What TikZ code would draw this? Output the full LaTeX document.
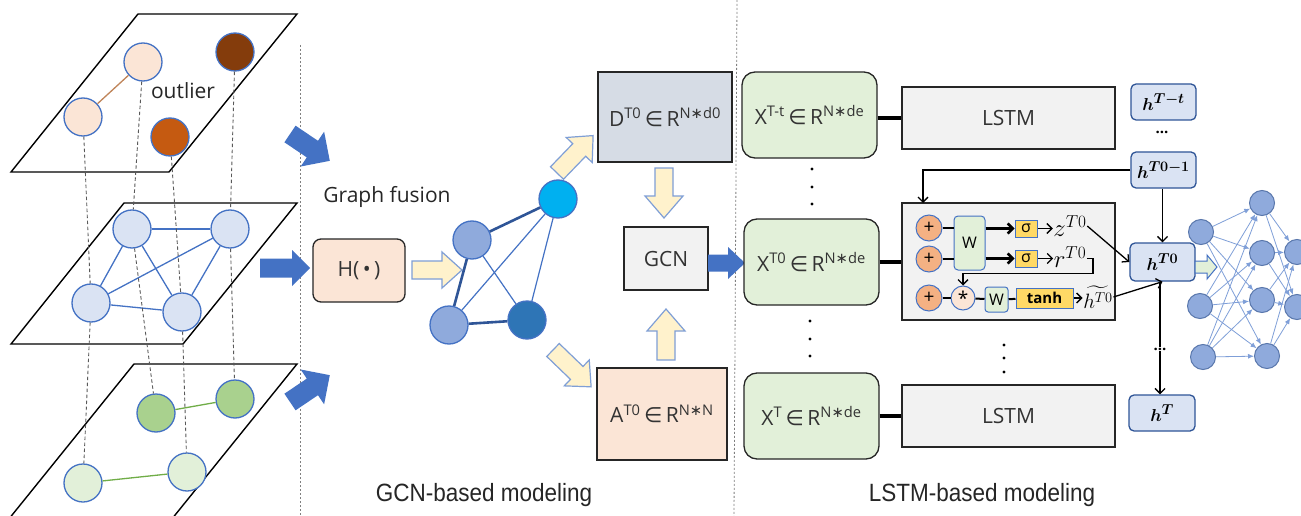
\documentclass[tikz,border=0pt]{standalone}
\usepackage{amsmath,bm}
\usepackage{fontspec}
\setmainfont{Open Sans}
\newfontfamily\symf{DejaVu Sans}
\newfontfamily\narrowf[FakeStretch=0.9]{Liberation Sans}
\usetikzlibrary{arrows.meta,calc}
\definecolor{peach}{HTML}{FBE5D6}
\definecolor{brownd}{HTML}{843C0C}
\definecolor{orng}{HTML}{C55A11}
\definecolor{bluefill}{HTML}{DAE3F3}
\definecolor{bluebd}{HTML}{4472C4}
\definecolor{bluedk}{HTML}{2F5597}
\definecolor{greend}{HTML}{A9D18E}
\definecolor{greenl}{HTML}{E2F0D9}
\definecolor{greenln}{HTML}{70AD47}
\definecolor{fblue}{HTML}{8FAADC}
\definecolor{fcyan}{HTML}{00B0F0}
\definecolor{fdark}{HTML}{2E75B6}
\definecolor{yel}{HTML}{FFF2CC}
\definecolor{yelbd}{HTML}{7F9FD6}
\definecolor{dgray}{HTML}{D6DCE5}
\definecolor{lgray}{HTML}{F2F2F2}
\definecolor{gold}{HTML}{FFD966}
\definecolor{salmon}{HTML}{F4B183}
\definecolor{edgebrown}{HTML}{C0855A}
\definecolor{nnedge}{HTML}{7F9FD8}
% block arrow: style, x, y, angle, length, body half width, head half width, head length
\newcommand{\blockarr}[8]{%
  \begin{scope}[shift={(#2,#3)},rotate=#4]
    \path[#1] (0,-#6) -- ({#5-#8},-#6) -- ({#5-#8},-#7) -- (#5,0) -- ({#5-#8},#7) -- ({#5-#8},#6) -- (0,#6) -- cycle;
  \end{scope}}
\begin{document}
\begin{tikzpicture}[x=1pt,y=-1pt,
  plane/.style={draw=black, line width=1.4pt, line join=miter},
  dline/.style={draw=black!65, line width=0.9pt, dash pattern=on 3.5pt off 2.5pt},
  sepline/.style={draw=black!50, line width=0.8pt, dash pattern=on 2pt off 2pt},
  gn/.style={circle, draw=bluebd, line width=1.3pt, minimum size=38pt, inner sep=0pt},
  box/.style={draw=black!85, line width=1.3pt, inner sep=0pt, align=center, text=black!80},
  txt/.style={font=\fontsize{21}{25}\selectfont},
  yarrow/.style={fill=yel, draw=yelbd, line width=1.2pt},
  barrow/.style={fill=bluebd},
  garrow/.style={fill=greenl, draw=bluebd, line width=1pt},
  hbox/.style={draw=bluedk, fill=bluefill, rounded corners=5pt, line width=1.3pt, inner sep=0pt, font=\fontsize{19}{22}\selectfont},
  pl/.style={circle, draw=bluebd, fill=salmon, line width=1pt, minimum size=26pt, inner sep=0pt, font=\fontsize{19}{19}\selectfont},
  wbox/.style={draw=bluebd, fill=greenl, rounded corners=4pt, line width=1pt, inner sep=0pt, font=\fontsize{16}{16}\selectfont},
  ybox/.style={draw=bluebd, fill=gold, line width=1pt, inner sep=0pt, font=\fontsize{16}{16}\selectfont},
  nn/.style={circle, draw=bluedk!80, fill=fblue, line width=1pt, minimum size=25pt, inner sep=0pt},
  nnarr/.style={draw=nnedge, line width=0.8pt, -{Latex[length=6pt,width=5pt]}},
  thk/.style={line width=4pt},
  arr/.style={line width=1.3pt, -{Straight Barb[length=5pt,width=10pt]}},
  thkarr/.style={line width=2.6pt, -{Straight Barb[length=5pt,width=10pt]}},
  mtxt/.style={inner sep=0.5pt, font=\fontsize{24}{26}\selectfont}
]
\clip (0,0) rectangle (1301,516);
\fill[white] (0,0) rectangle (1301,516);

% ---------- planes ----------
\draw[plane] (138,14) -- (297,14) -- (169,172) -- (11,172) -- cycle;
\draw[plane] (124,203) -- (297,203) -- (183,344) -- (11,344) -- cycle;
\draw[plane] (134,364) -- (297,364) -- (163,530) -- (0,530) -- cycle;

% top plane nodes
\node[gn, fill=peach] (tA) at (143,62) {};
\node[gn, fill=peach] (tB) at (83,117) {};
\node[gn, fill=brownd] (tC) at (235,52) {};
\node[gn, fill=orng] (tD) at (170,137) {};
\draw[edgebrown, line width=1.3pt] (tA) -- (tB);
\node[txt, text=black!85] (outl) at (183,91) {outlier};

% middle plane nodes
\node[gn, fill=bluefill] (m1) at (132,229) {};
\node[gn, fill=bluefill] (m2) at (230,229) {};
\node[gn, fill=bluefill] (m3) at (91,303) {};
\node[gn, fill=bluefill] (m4) at (182,312) {};
\foreach \a/\b in {m1/m2,m1/m3,m1/m4,m2/m3,m2/m4,m3/m4}
  \draw[bluebd, line width=1.3pt] (\a) -- (\b);

% bottom plane nodes
\node[gn, fill=greend] (g1) at (156,413) {};
\node[gn, fill=greend] (g2) at (235,399) {};
\node[gn, fill=greenl] (g3) at (83,483) {};
\node[gn, fill=greenl] (g4) at (187,472) {};
\draw[greenln, line width=1.3pt] (g1) -- (g2);
\draw[greenln, line width=1.3pt] (g3) -- (g4);

% dashed correspondences
\draw[dline] (tB) -- (m3);
\draw[dline] (m3) -- (g3);
\draw[dline] (tA) -- (m1);
\draw[dline] (m1) -- (g1);
\draw[dline] (tD) -- (m4);
\draw[dline] (m4) -- (g4);
\draw[dline] (tC) -- (m2);
\draw[dline] (m2) -- (g2);

% separators
\draw[sepline] (300,45) -- (300,516);
\draw[sepline] (737,0) -- (734,516);

% blue block arrows
\blockarr{barrow}{290}{134}{-34}{48}{10}{21}{21}
\blockarr{barrow}{260}{268}{0}{50}{9.5}{18}{18}
\blockarr{barrow}{290}{402}{34}{48}{10}{21}{21}

% fusion
\node[txt, text=black!85] (gf) at (387,197) {Graph fusion};
\node[box, fill=peach, rounded corners=8pt, minimum width=92pt, minimum height=63pt, txt] (H) at (359,270.5) {H(\,•\,)};
\blockarr{yarrow}{412}{270}{0}{50}{9}{18}{20}

\node[gn, fill=fblue, draw=bluebd] (f1) at (472,240) {};
\node[gn, fill=fcyan, draw=bluebd] (f2) at (558,199) {};
\node[gn, fill=fblue, draw=bluebd] (f3) at (449,325) {};
\node[gn, fill=fdark, draw=bluebd] (f4) at (527,320) {};
\draw[bluedk, line width=2.6pt] (f1) -- (f2);
\draw[bluedk, line width=2.6pt] (f1) -- (f3);
\draw[bluedk, line width=2.6pt] (f3) -- (f4);
\draw[bluebd, line width=1.2pt] (f1) -- (f4);
\draw[bluebd, line width=1.2pt] (f3) -- (f2);
\draw[bluebd, line width=1.2pt] (f4) -- (f2);

\blockarr{yarrow}{557}{173}{46}{52}{9}{18}{20}
\blockarr{yarrow}{553}{350}{-44}{53}{9}{18}{20}

% GCN part
\node[box, fill=dgray, minimum width=134pt, minimum height=90pt, txt] (D) at (665,117)
  {D\textsuperscript{T0}\,{\symf ∈}\,R\textsuperscript{N{\symf ∗}d0}};
\node[box, fill=lgray, minimum width=84pt, minimum height=63pt, txt] (gcn) at (666,258.5) {GCN};
\node[box, fill=peach, minimum width=130pt, minimum height=92pt, txt] (A) at (662,414)
  {A\textsuperscript{T0}\,{\symf ∈}\,R\textsuperscript{N{\symf ∗}N}};
\blockarr{yarrow}{664}{168}{-90}{50}{9}{19}{22}
\blockarr{yarrow}{666}{360}{90}{51}{9}{19}{22}
\blockarr{barrow}{708}{263}{0}{37}{8.5}{16}{17}

% X boxes
\node[box, fill=greenl, rounded corners=13pt, minimum width=135pt, minimum height=86pt, txt] (Xa) at (809.5,115)
  {X\textsuperscript{T-t}\,{\symf ∈}\,R\textsuperscript{N{\symf ∗}de}};
\node[box, fill=greenl, rounded corners=13pt, minimum width=135pt, minimum height=86pt, txt] (Xb) at (811.5,262)
  {X\textsuperscript{T0}\,{\symf ∈}\,R\textsuperscript{N{\symf ∗}de}};
\node[box, fill=greenl, rounded corners=13pt, minimum width=135pt, minimum height=86pt, txt] (Xc) at (811.5,416)
  {X\textsuperscript{T}\,{\symf ∈}\,R\textsuperscript{N{\symf ∗}de}};
\foreach \yy in {169,187,204} \fill (812,\yy) circle (1.6);
\foreach \yy in {321,339,356} \fill (810,\yy) circle (1.6);

% LSTM / GRU boxes
\node[box, fill=lgray, minimum width=213pt, minimum height=62pt, txt] (L1) at (1008.5,118) {LSTM};
\node[box, fill=lgray, minimum width=213pt, minimum height=117pt] (gru) at (1008.5,261.5) {};
\node[box, fill=lgray, minimum width=213pt, minimum height=62pt, txt] (L2) at (1008.5,416) {LSTM};
\foreach \yy in {345,358,372} \fill (1004,\yy) circle (1.6);
\draw[thk] (Xa.east |- L1) -- (L1.west);
\draw[thk] (Xb.east |- gru) -- (gru.west);
\draw[thk] (Xc.east |- L2) -- (L2.west);

% GRU internals
\node[pl] (p1) at (929,228) {+};
\node[pl] (p2) at (929,259) {+};
\node[pl] (p3) at (929,298) {+};
\node[wbox, minimum width=31pt, minimum height=54pt] (W1) at (969.5,243) {W};
\node[ybox, minimum width=22pt, minimum height=17pt] (s1) at (1026,228.5) {σ};
\node[ybox, minimum width=22pt, minimum height=17pt] (s2) at (1026,258.5) {σ};
\node[mtxt] (z) at (1070,226) {$z^{T0}$};
\node[mtxt] (r) at (1070,257) {$r^{T0}$};
\node[pl, fill=peach, minimum size=24pt] (star) at (963,298) {*};
\node[wbox, minimum width=23pt, minimum height=25pt, rounded corners=3pt] (W2) at (996.5,299.5) {W};
\node[ybox, minimum width=57pt, minimum height=20pt, font=\bfseries\fontsize{15}{15}\selectfont] (tanh) at (1044.5,298) {tanh};
\node[mtxt, font=\fontsize{20}{22}\selectfont] (ht) at (1098,297) {$\widetilde{h^{T0}}$};
\draw[line width=2.6pt] (p1) -- (p1 -| W1.west);
\draw[line width=2.6pt] (p2) -- (p2 -| W1.west);
\draw[thkarr] (W1.east |- s1) -- (s1.west);
\draw[thkarr] (W1.east |- s2) -- (s2.west);
\draw[arr] (s1) -- (s1 -| z.west);
\draw[arr] (s2) -- (s2 -| r.west);
\draw[arr] (r.east |- s2) -- ++(6,0) -- ++(0,15) -| (star.north);
\draw[line width=2pt] (p3) -- (star);
\draw[line width=2pt] (star) -- (W2);
\draw[line width=2pt] (W2) -- (tanh);
\draw[arr] (tanh) -- (tanh -| ht.west);

% h boxes
\node[hbox, minimum width=65pt, minimum height=36pt] (hTt) at (1163.5,102) {$\bm{h^{T-t}}$};
\node[font=\bfseries\fontsize{15}{15}\selectfont, inner sep=1pt] (hd1) at (1162,132) {...};
\node[hbox, minimum width=65pt, minimum height=36pt] (hT0m) at (1163.5,170) {$\bm{h^{T0-1}}$};
\node[hbox, minimum width=65pt, minimum height=38pt] (hT0) at (1162.5,262) {$\bm{h^{T0}}$};
\node[font=\bfseries\fontsize{15}{15}\selectfont, inner sep=1pt] (hd2) at (1160,349) {...};
\node[hbox, minimum width=66pt, minimum height=36pt] (hT) at (1162,413) {$\bm{h^{T}}$};
\coordinate (gin) at (923,203);
\draw[arr] (hT0m.west) -| (gin);
\draw[arr] (hT0m.south -| hT0) -- (hT0.north);
\draw[line width=1.3pt] (hT0.south -| hd2) -- (hd2);
\draw[arr] (hd2) -- (hT.north -| hd2);
\draw[arr] (z.east) -- (hT0.west);
\draw[arr] (ht.east) -- (hT0.south);

% green arrow to NN
\blockarr{garrow}{1195}{267}{0}{22}{6}{12}{10}

% neural net
\node[nn] (n11) at (1201,232) {};
\node[nn] (n12) at (1200,306) {};
\node[nn] (n13) at (1203,357) {};
\node[nn] (n21) at (1262,203) {};
\node[nn] (n22) at (1262,253) {};
\node[nn] (n23) at (1262,300) {};
\node[nn] (n24) at (1267,356) {};
\node[nn] (n31) at (1297,252) {};
\node[nn] (n32) at (1297,307) {};
\foreach \a in {n11,n12,n13}
  \foreach \b in {n21,n22,n23,n24}
    \draw[nnarr] (\a) -- (\b);
\foreach \a in {n21,n22,n23,n24}
  \foreach \b in {n31,n32}
    \draw[nnarr] (\a) -- (\b);

% bottom labels
\node[font=\narrowf\fontsize{25}{28}\selectfont, text=black!85] (lab1) at (484,495) {GCN-based modeling};
\node[font=\narrowf\fontsize{25}{28}\selectfont, text=black!85] (lab2) at (982,495) {LSTM-based modeling};
\end{tikzpicture}
\end{document}
